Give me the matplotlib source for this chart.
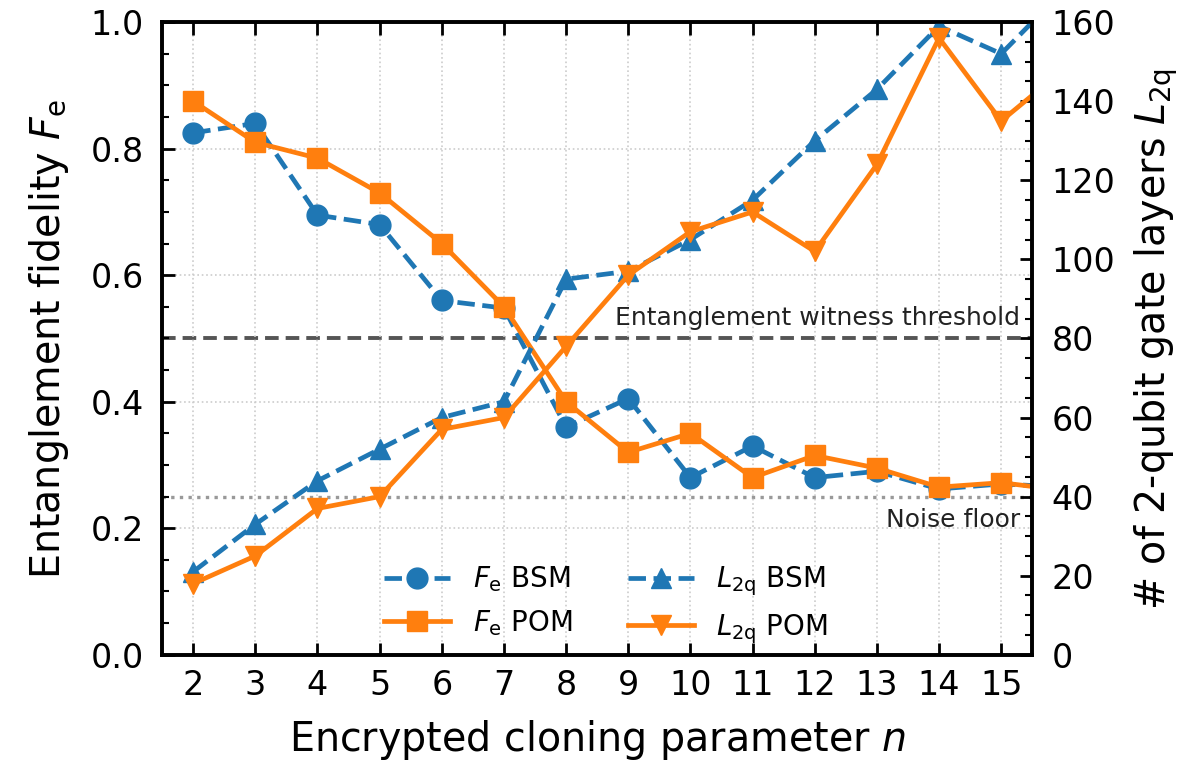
import matplotlib
matplotlib.use("Agg")
import matplotlib.pyplot as plt
from matplotlib.ticker import MultipleLocator

# data
n = [2, 3, 4, 5, 6, 7, 8, 9, 10, 11, 12, 13, 14, 15, 16]
fe_bsm = [0.825, 0.84, 0.695, 0.68, 0.56, 0.548, 0.36, 0.405, 0.28, 0.33, 0.28, 0.29, 0.262, 0.27, 0.265]
fe_pom = [0.875, 0.81, 0.785, 0.73, 0.65, 0.55, 0.40, 0.32, 0.35, 0.28, 0.315, 0.295, 0.265, 0.272, 0.26]
l2q_bsm = [21, 33, 44, 52, 60, 64, 95, 97, 105, 115, 130, 143, 159, 152, 168]
l2q_pom = [18, 25, 37, 40, 57, 60, 78, 96, 107, 112, 102, 124, 156, 135, 148]

threshold = 0.5
noise_floor = 0.25

blue = "#1f77b4"
orange = "#ff7f0e"

fig = plt.figure(figsize=(11.92, 7.64), dpi=100)
ax = fig.add_axes([0.136, 0.143, 0.730, 0.828])
ax2 = ax.twinx()

l1, = ax.plot(n, fe_bsm, "--o", color=blue, lw=3.4, ms=15, label=r"$F_\mathrm{e}$ BSM")
l2, = ax.plot(n, fe_pom, "-s", color=orange, lw=3.4, ms=15, label=r"$F_\mathrm{e}$ POM")
l3, = ax2.plot(n, l2q_bsm, "--^", color=blue, lw=3.4, ms=15, label=r"$L_\mathrm{2q}$ BSM")
l4, = ax2.plot(n, l2q_pom, "-v", color=orange, lw=3.4, ms=15, label=r"$L_\mathrm{2q}$ POM")

ax.axhline(threshold, color="#555555", ls=(0, (3.5, 1.8)), lw=2.8, zorder=1)
ax.axhline(noise_floor, color="#999999", ls=(0, (1, 1.6)), lw=2.4, zorder=1)
ax.text(15.3, threshold + 0.014, "Entanglement witness threshold", ha="right", va="bottom",
        fontsize=18, color="#222222")
ax.text(15.3, noise_floor - 0.018, "Noise floor", ha="right", va="top",
        fontsize=18, color="#222222")

ax.set_xlim(1.5, 15.5)
ax.set_ylim(0, 1.0)
ax2.set_ylim(0, 160)
ax.set_xticks(range(2, 16))
ax.yaxis.set_major_locator(MultipleLocator(0.2))
ax.yaxis.set_minor_locator(MultipleLocator(0.05))
ax2.yaxis.set_major_locator(MultipleLocator(20))
ax2.yaxis.set_minor_locator(MultipleLocator(5))

ax.grid(True, which="major", ls=":", color="#cccccc", lw=1.2)

ax.tick_params(axis="both", which="major", direction="in", length=9, width=2, labelsize=24, top=True)
ax.tick_params(axis="y", which="minor", direction="in", length=5, width=1.5)
ax.tick_params(axis="x", pad=10)
ax.tick_params(axis="y", pad=13)
ax2.tick_params(axis="y", which="major", direction="in", length=9, width=2, labelsize=24, pad=14)
ax2.tick_params(axis="y", which="minor", direction="in", length=5, width=1.5)

for a in (ax, ax2):
    for s in a.spines.values():
        s.set_linewidth(2.6)

ax.set_xlabel(r"Encrypted cloning parameter $n$", fontsize=28.5, labelpad=12)
ax.set_ylabel(r"Entanglement fidelity $F_\mathrm{e}$", fontsize=28.5, labelpad=14)
ax2.set_ylabel(r"# of 2-qubit gate layers $L_\mathrm{2q}$", fontsize=28.5, labelpad=12)

ax2.legend(handles=[l1, l2, l3, l4], ncol=2, frameon=False, fontsize=20,
           loc="lower center", bbox_to_anchor=(0.51, -0.025), handlelength=2.4,
           columnspacing=2.0)

fig.savefig("out.png", dpi=100)
